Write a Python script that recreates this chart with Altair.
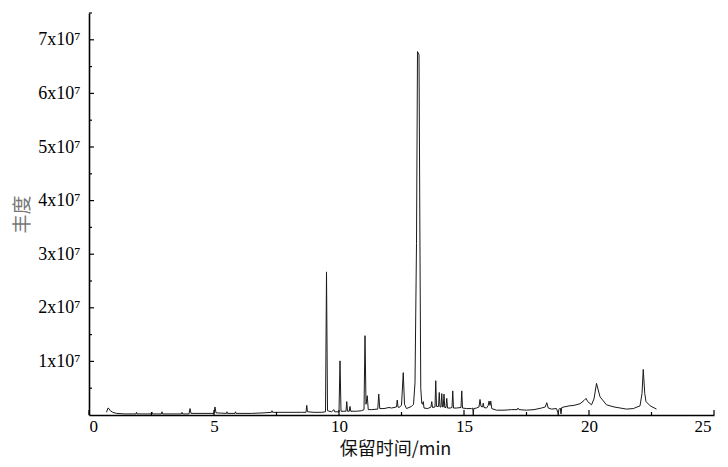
import altair as alt
import pandas as pd

# Retention time (min) and abundance (x10^7)
rt = [0.70, 0.76, 0.80, 0.85, 0.95, 1.10, 1.40, 1.88, 1.90, 1.92, 2.50, 2.52, 2.54,
      2.90, 2.92, 2.94, 3.70, 3.72, 3.74, 4.00, 4.04, 4.08, 5.00, 5.04, 5.08, 5.50,
      5.52, 5.54, 5.84, 5.86, 5.88, 6.50, 7.00, 7.30, 7.32, 7.34, 7.80, 8.20, 8.50,
      8.68, 8.71, 8.74, 9.00, 9.30, 9.46, 9.50, 9.54, 9.70, 9.80, 9.82, 10.00, 10.04,
      10.08, 10.28, 10.31, 10.34, 10.41, 10.44, 10.47, 10.70, 10.90, 11.00, 11.04,
      11.08, 11.13, 11.17, 11.30, 11.55, 11.59, 11.63, 11.80, 12.00, 12.10, 12.30,
      12.33, 12.36, 12.40, 12.50, 12.57, 12.62, 12.70, 12.80, 12.90, 12.98, 13.04,
      13.10, 13.14, 13.20, 13.24, 13.27, 13.31, 13.34, 13.37, 13.40, 13.55, 13.68,
      13.71, 13.74, 13.84, 13.87, 13.90, 13.98, 14.01, 14.04, 14.08, 14.11, 14.14,
      14.17, 14.20, 14.23, 14.28, 14.31, 14.34, 14.45, 14.52, 14.55, 14.58, 14.70,
      14.88, 14.91, 14.94, 15.10, 15.30, 15.35, 15.37, 15.39, 15.50, 15.60, 15.64,
      15.68, 15.74, 15.77, 15.80, 15.90, 15.97, 16.00, 16.04, 16.07, 16.11, 16.30,
      16.60, 16.90, 17.13, 17.16, 17.20, 17.50, 17.80, 18.10, 18.25, 18.31, 18.37,
      18.50, 18.70, 18.75, 18.77, 18.79, 18.85, 18.88, 18.91, 19.00, 19.20, 19.40,
      19.64, 19.80, 19.88, 19.95, 20.10, 20.20, 20.30, 20.44, 20.70, 21.00, 21.50,
      21.77, 22.04, 22.12, 22.17, 22.23, 22.28, 22.45, 22.70]
abund = [0.05, 0.13, 0.12, 0.08, 0.05, 0.03, 0.02, 0.02, 0.05, 0.02, 0.02, 0.05, 0.02,
         0.02, 0.06, 0.02, 0.02, 0.05, 0.02, 0.02, 0.12, 0.03, 0.03, 0.15, 0.04, 0.03,
         0.06, 0.03, 0.03, 0.06, 0.03, 0.03, 0.04, 0.05, 0.08, 0.05, 0.05, 0.05, 0.05,
         0.05, 0.18, 0.06, 0.05, 0.05, 0.06, 2.67, 0.08, 0.06, 0.10, 0.06, 0.06, 1.01,
         0.07, 0.07, 0.25, 0.07, 0.07, 0.16, 0.07, 0.07, 0.08, 0.10, 1.48,
         0.20, 0.36, 0.10, 0.10, 0.11, 0.39, 0.12, 0.12, 0.14, 0.13, 0.15,
         0.28, 0.15, 0.14, 0.18, 0.79, 0.20, 0.12, 0.14, 0.16, 0.20, 0.60,
         3.20, 6.78, 6.72, 3.00, 0.50, 0.22, 0.20, 0.25, 0.13, 0.12, 0.15,
         0.25, 0.14, 0.15, 0.64, 0.16, 0.16, 0.42, 0.15, 0.15, 0.40, 0.15,
         0.15, 0.39, 0.14, 0.14, 0.31, 0.13, 0.13, 0.14, 0.45, 0.13, 0.13,
         0.14, 0.45, 0.13, 0.12, 0.12, 0.13, 0.00, 0.12, 0.13, 0.15, 0.29,
         0.16, 0.15, 0.22, 0.14, 0.13, 0.18, 0.26, 0.18, 0.26, 0.12, 0.09,
         0.09, 0.10, 0.10, 0.13, 0.10, 0.09, 0.10, 0.13, 0.15, 0.23, 0.13,
         0.11, 0.12, 0.05, 0.00, 0.10, 0.13, 0.02, 0.14, 0.15, 0.17, 0.18,
         0.21, 0.27, 0.31, 0.25, 0.19, 0.30, 0.59, 0.34, 0.19, 0.15, 0.11,
         0.12, 0.17, 0.40, 0.85, 0.40, 0.25, 0.17, 0.11]

x_major = [0, 5, 10, 15, 20, 25]
x_minor = [2.5, 7.5, 12.5, 17.5, 22.5]
y_major = [1, 2, 3, 4, 5, 6, 7]
y_minor = [0.5, 1.5, 2.5, 3.5, 4.5, 5.5, 6.5, 7.5]

W, H = 625, 402
SERIF = "Liberation Serif"
CJK = "Noto Sans CJK SC"

trace = pd.DataFrame({"rt": rt, "ab": abund, "order": list(range(len(rt)))})

xs = alt.Scale(domain=[0, 25], nice=False, zero=False)
ys = alt.Scale(domain=[0, 7.5], nice=False)

line = alt.Chart(trace).mark_line(color="#1a1a1a", strokeWidth=1, clip=True).encode(
    x=alt.X("rt:Q", scale=xs, axis=alt.Axis(
        values=x_major, ticks=False, grid=False, domainColor="black", domainWidth=1.6,
        labelFont=SERIF, labelFontSize=17, labelColor="black", labelPadding=3,
        labelOffset={"condition": {"test": "datum.value === 25", "value": -3}, "value": 0},
        title="保留时间/min", titleFont=CJK, titleFontSize=18, titleFontWeight="normal",
        titleColor="#111", titleX=306, titleY=34, titleBaseline="middle", titleAlign="center")),
    y=alt.Y("ab:Q", scale=ys, axis=alt.Axis(
        values=y_major, ticks=False, grid=False, domainColor="black", domainWidth=1.6,
        labelFont=SERIF, labelFontSize=18, labelColor="black", labelPadding=9,
        labelExpr="datum.value + 'x10⁷'",
        title="丰度", titleFont=CJK, titleFontSize=19, titleFontWeight="normal",
        titleColor="#777", titleX=-67, titleY=201, titleBaseline="middle", titleAlign="center",
        titleAngle=270)),
    order="order:Q",
)

def ticks_y(vals, length):
    df = pd.DataFrame({"v": vals})
    return alt.Chart(df).mark_rule(color="black", strokeWidth=1.2).encode(
        y=alt.Y("v:Q", scale=ys), x=alt.value(0), x2=alt.value(length))

def ticks_x(vals, length):
    df = pd.DataFrame({"v": vals})
    return alt.Chart(df).mark_rule(color="black", strokeWidth=1.2).encode(
        x=alt.X("v:Q", scale=xs), y=alt.value(H), y2=alt.value(H - length))

chart = alt.layer(
    line,
    ticks_y(y_major, 5), ticks_y(y_minor, 3),
    ticks_x(x_major, 5), ticks_x(x_minor, 3),
).properties(
    width=W, height=H,
    autosize=alt.AutoSizeParams(type="none"),
    padding={"left": 81, "top": 5, "right": 6, "bottom": 44},
    background="white",
).configure_view(stroke=None)

chart.save("out.html", embed_options={"renderer": "svg", "actions": False})
